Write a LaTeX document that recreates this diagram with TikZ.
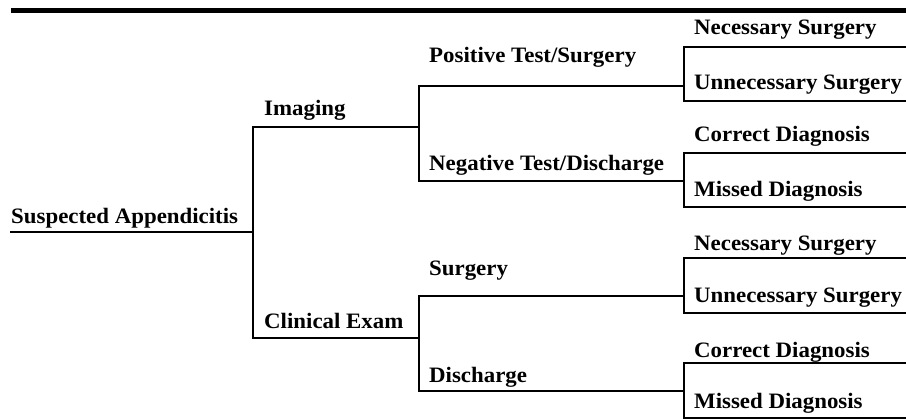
\documentclass[tikz,border=0pt]{standalone}
\usepackage{fontspec}
\setmainfont{Liberation Serif}
\newfontfamily\lblfont[FakeStretch=1.04]{Liberation Serif}
\begin{document}
\begin{tikzpicture}[x=1pt,y=-1pt,
  lbl/.style={anchor=base west,inner sep=0pt,font=\lblfont\fontsize{22}{24}\selectfont\bfseries},
  br/.style={line width=1.6pt,line cap=rect}]
\useasboundingbox (0,0) rectangle (906,420);
\fill (11,8) rectangle (906,13);
% coordinates
\coordinate (r0) at (11,232);
\coordinate (r1) at (253,232);
\coordinate (im0) at (253,127);
\coordinate (im1) at (419,127);
\coordinate (ce0) at (253,338);
\coordinate (ce1) at (419,338);
\coordinate (po0) at (419,86);  \coordinate (po1) at (684,86);
\coordinate (ne0) at (419,181); \coordinate (ne1) at (684,181);
\coordinate (su0) at (419,296); \coordinate (su1) at (684,296);
\coordinate (di0) at (419,391); \coordinate (di1) at (684,391);
\coordinate (a0) at (684,47);  \coordinate (a1) at (906,47);
\coordinate (b0) at (684,101); \coordinate (b1) at (906,101);
\coordinate (c0) at (684,153); \coordinate (c1) at (906,153);
\coordinate (d0) at (684,207); \coordinate (d1) at (906,207);
\coordinate (e0) at (684,258); \coordinate (e1) at (906,258);
\coordinate (f0) at (684,313); \coordinate (f1) at (906,313);
\coordinate (g0) at (684,363); \coordinate (g1) at (906,363);
\coordinate (h0) at (684,418); \coordinate (h1) at (906,418);
% connectors
\draw[br] (r0) -- (r1);
\draw[br] (im1) -- (im0) -- (ce0) -- (ce1);
\draw[br] (po1) -- (po0) -- (ne0) -- (ne1);
\draw[br] (su1) -- (su0) -- (di0) -- (di1);
\draw[br] (a1) -- (a0) -- (b0) -- (b1);
\draw[br] (c1) -- (c0) -- (d0) -- (d1);
\draw[br] (e1) -- (e0) -- (f0) -- (f1);
\draw[br] (g1) -- (g0) -- (h0) -- (h1);
% labels
\node[lbl] (root) at (11,223) {Suspected Appendicitis};
\node[lbl] (img) at (264,116) {Imaging};
\node[lbl] (cli) at (264,328) {Clinical Exam};
\node[lbl] (pos) at (429,63) {Positive Test/Surgery};
\node[lbl] (neg) at (429,170) {Negative Test/Discharge};
\node[lbl] (sur) at (429,275) {Surgery};
\node[lbl] (dis) at (429,382) {Discharge};
\node[lbl] (l1) at (694,35) {Necessary Surgery};
\node[lbl] (l2) at (694,90) {Unnecessary Surgery};
\node[lbl] (l3) at (694,142) {Correct Diagnosis};
\node[lbl] (l4) at (694,196) {Missed Diagnosis};
\node[lbl] (l5) at (694,250) {Necessary Surgery};
\node[lbl] (l6) at (694,302) {Unnecessary Surgery};
\node[lbl] (l7) at (694,357) {Correct Diagnosis};
\node[lbl] (l8) at (694,408) {Missed Diagnosis};
\end{tikzpicture}
\end{document}
